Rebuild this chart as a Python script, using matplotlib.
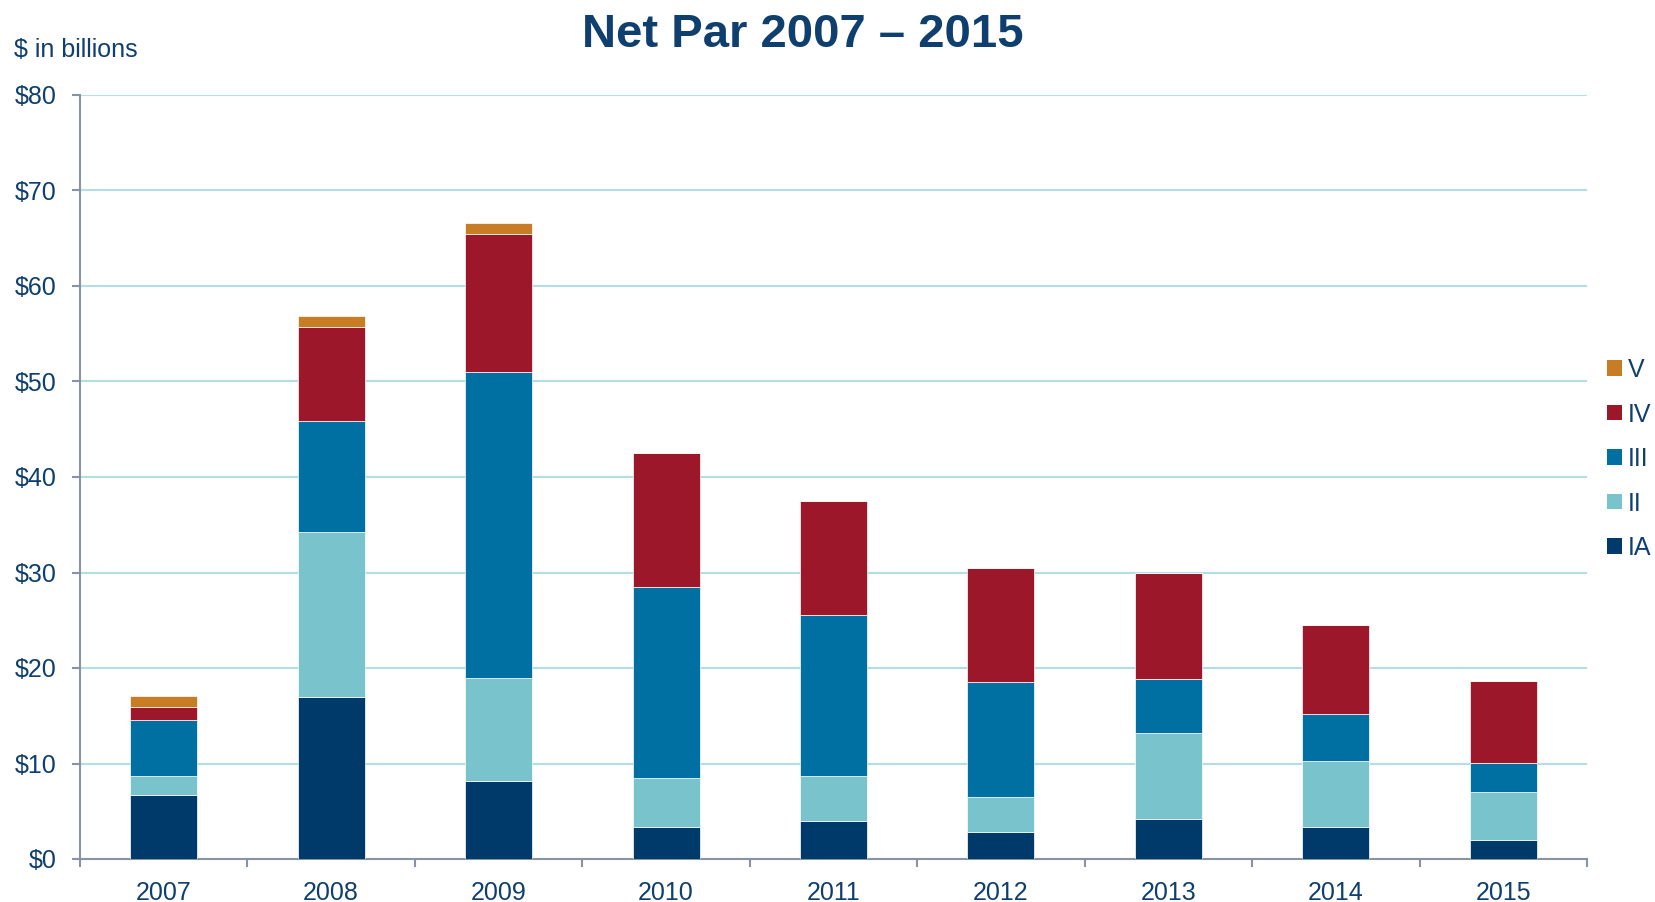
import matplotlib
matplotlib.use("Agg")
import matplotlib.pyplot as plt
import numpy as np
from matplotlib.patches import Patch

years = ["2007", "2008", "2009", "2010", "2011", "2012", "2013", "2014", "2015"]
ia = [6.7, 17.0, 8.2, 3.4, 4.0, 2.8, 4.2, 3.3, 2.0]
ii = [2.0, 17.2, 10.8, 5.1, 4.7, 3.7, 9.0, 7.0, 5.0]
iii = [5.9, 11.7, 32.0, 20.0, 16.8, 12.0, 5.7, 4.9, 3.0]
iv = [1.3, 9.8, 14.4, 14.0, 12.0, 12.0, 11.0, 9.3, 8.6]
v = [1.2, 1.2, 1.2, 0.0, 0.0, 0.0, 0.0, 0.0, 0.0]

series = [("IA", ia, "#003A6A"), ("II", ii, "#78C3CC"), ("III", iii, "#0070A3"),
          ("IV", iv, "#9D172B"), ("V", v, "#C87C24")]

TEXT = "#0E3F6E"
AXIS = "#8A93A3"
GRID = "#B4DEE6"

plt.rcParams["font.family"] = ["Liberation Sans", "DejaVu Sans"]

fig = plt.figure(figsize=(16.55, 9.02), dpi=100, facecolor="white")
ax = fig.add_axes([80 / 1655, 1 - 859 / 902, 1507 / 1655, 764 / 902])

x = np.arange(len(years))
bottom = np.zeros(len(years))
for name, vals, color in series:
    vals = np.array(vals)
    ax.bar(x, vals, width=0.4, bottom=bottom, color=color, edgecolor="white",
           linewidth=0.5, zorder=3)
    bottom += vals

ax.set_xlim(-0.5, len(years) - 0.5)
ax.set_ylim(0, 80)
ax.set_yticks(range(0, 81, 10))
ax.set_yticklabels([f"${t}" for t in range(0, 81, 10)], fontsize=18, color=TEXT)
ax.yaxis.grid(True, color=GRID, linewidth=1.5, zorder=0)
ax.set_axisbelow(True)

ax.set_xticks(x)
ax.set_xticklabels(years, fontsize=18, color=TEXT)
ax.tick_params(axis="x", length=0, pad=16)
ax.set_xticks(np.arange(-0.5, len(years)), minor=True)
ax.tick_params(axis="x", which="minor", length=6, width=1.5, color=AXIS, direction="out")
ax.tick_params(axis="y", length=6, width=1.5, color=AXIS, pad=11)

for s in ["top", "right"]:
    ax.spines[s].set_visible(False)
for s in ["left", "bottom"]:
    ax.spines[s].set_color(AXIS)
    ax.spines[s].set_linewidth(1.5)

fig.text(803 / 1655, 1 - 35 / 902, "Net Par 2007 \u2013 2015", ha="center", va="center",
         fontsize=34, fontweight="bold", color=TEXT)
fig.text(14 / 1655, 1 - 50 / 902, "$ in billions", ha="left", va="center",
         fontsize=18, color=TEXT)

handles = [Patch(facecolor=c, label=n) for n, _, c in reversed(series)]
fig.legend(handles=handles, loc="upper left", bbox_to_anchor=(1607 / 1655, 1 - 358 / 902),
           frameon=False, fontsize=18, labelcolor=TEXT, handlelength=0.58,
           handleheight=0.58, handletextpad=0.25, labelspacing=0.82, borderpad=0,
           borderaxespad=0)

fig.savefig("out.png", dpi=100, facecolor="white")
